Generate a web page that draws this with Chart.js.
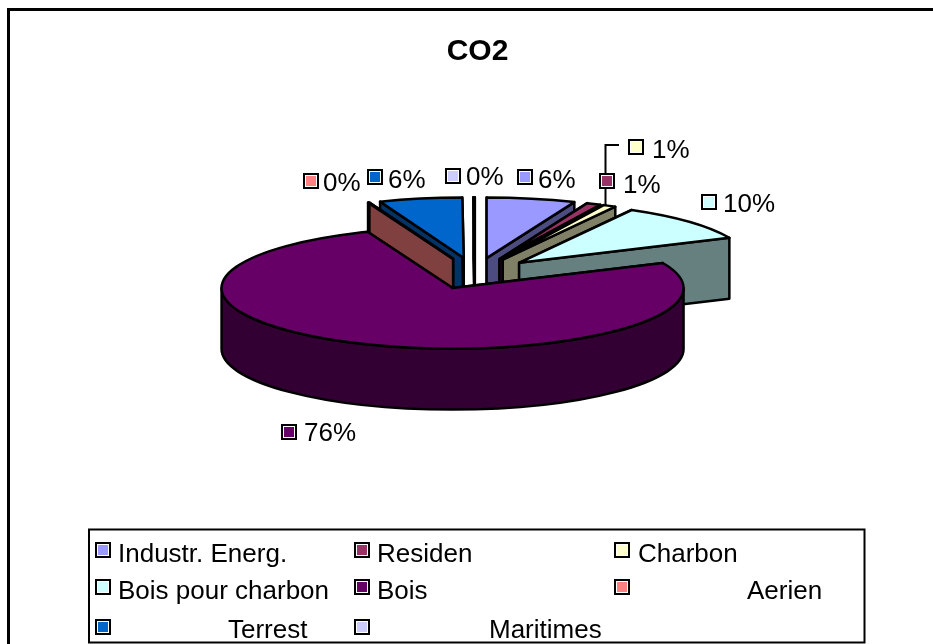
<!DOCTYPE html>
<html>
<head>
<meta charset="utf-8">
<style>html,body{margin:0;padding:0;background:#fff}canvas{display:block}</style>
<script src="https://cdn.jsdelivr.net/npm/chart.js@4/dist/chart.umd.min.js"></script>
</head>
<body>
<canvas id="c" width="933" height="644"></canvas>
<script>
const categories = ["Industr. Energ.","Residen","Charbon","Bois pour charbon","Bois","Aerien","Terrest","Maritimes"];
const values = [6.2,1.0,0.9,10.1,75.8,0.1,5.8,0.1];
const topColors = ["#9999FF","#993366","#FFFFCC","#CCFFFF","#660066","#FF8080","#0066CC","#CCCCFF"];
const wallColors = ["#4C4C80","#4D1933","#808066","#668080","#330033","#804040","#003366","#666680"];
const titleText = "CO2";

// layout / style only
const TILT = 0.262, DEPTH = 61, EXPLODE = 60, CX = 475, CY = 273.5;
const FONT = '26px "Liberation Sans", Arial, sans-serif';
const labelPos = [
  {mx:525,my:177,tx:538,ty:188},{mx:607,my:181,tx:623,ty:193},{mx:636,my:147,tx:652,ty:158},
  {mx:709,my:202,tx:723,ty:212},{mx:289,my:432,tx:304,ty:441},{mx:311,my:181,tx:323,ty:191},
  {mx:375,my:177,tx:388,ty:188},{mx:453,my:176,tx:466,ty:185}
];
const legendPos = [
  {mx:103,my:550,tx:118,ty:562},{mx:362,my:550,tx:377,ty:562},{mx:622,my:550,tx:638,ty:562},
  {mx:103,my:587,tx:118,ty:599},{mx:362,my:587,tx:377,ty:599},{mx:622,my:587,tx:747,ty:599},
  {mx:103,my:627,tx:228,ty:638},{mx:362,my:627,tx:489,ty:638}
];

function marker(ctx,x,y,color){
  ctx.fillStyle="#000";ctx.fillRect(x-8,y-8,16,16);
  ctx.fillStyle="#fff";ctx.fillRect(x-6,y-6,12,12);
  ctx.fillStyle=color;ctx.fillRect(x-5,y-5,10,10);
}

const pie3d = {
  id:"pie3d",
  beforeDraw(chart){
    const ctx=chart.ctx;
    ctx.save();ctx.fillStyle="#fff";ctx.fillRect(0,0,933,644);
    ctx.strokeStyle="#000";ctx.lineWidth=3;
    ctx.beginPath();ctx.moveTo(8.5,644);ctx.lineTo(8.5,9.5);ctx.lineTo(933,9.5);ctx.stroke();
    ctx.restore();
  },
  beforeDatasetsDraw(chart){
    const ctx=chart.ctx, arcs=chart.getDatasetMeta(0).data;
    ctx.save();ctx.strokeStyle="#000";ctx.lineWidth=2.5;ctx.lineJoin="round";
    const items=arcs.map((arc,i)=>{
      const mid=(arc.startAngle+arc.endAngle)/2;
      return {arc,i,mid,ox:CX+Math.cos(mid)*EXPLODE,oy:CY+Math.sin(mid)*EXPLODE*TILT};
    });
    items.sort((p,q)=>p.oy-q.oy);
    for(const it of items){
      const {arc,i,ox,oy}=it, r=arc.outerRadius, a0=arc.startAngle, a1=arc.endAngle;
      ctx.fillStyle=wallColors[i];
      for(const a of [a0,a1]){
        const rx=ox+Math.cos(a)*r, ry=oy+Math.sin(a)*r*TILT;
        ctx.beginPath();ctx.moveTo(ox,oy);ctx.lineTo(rx,ry);ctx.lineTo(rx,ry+DEPTH);ctx.lineTo(ox,oy+DEPTH);ctx.closePath();ctx.fill();ctx.stroke();
      }
      const s=Math.max(a0,0), e=Math.min(a1,Math.PI);
      if(e>s){
        ctx.beginPath();ctx.ellipse(ox,oy,r,r*TILT,0,s,e);ctx.ellipse(ox,oy+DEPTH,r,r*TILT,0,e,s,true);ctx.closePath();ctx.fill();ctx.stroke();
      }
      ctx.fillStyle=topColors[i];
      ctx.beginPath();ctx.moveTo(ox,oy);ctx.ellipse(ox,oy,r,r*TILT,0,a0,a1);ctx.closePath();ctx.fill();ctx.stroke();
    }
    ctx.restore();
    return false;
  },
  afterDraw(chart){
    const ctx=chart.ctx, total=values.reduce((a,b)=>a+b,0);
    ctx.save();
    // leader line for Charbon
    ctx.strokeStyle="#000";ctx.lineWidth=2;
    ctx.beginPath();ctx.moveTo(619,145);ctx.lineTo(605.5,145);ctx.lineTo(605.5,206);ctx.stroke();
    ctx.font=FONT;ctx.textBaseline="alphabetic";ctx.textAlign="left";
    values.forEach((v,i)=>{
      const p=labelPos[i];
      marker(ctx,p.mx,p.my,topColors[i]);
      ctx.fillStyle="#000";
      ctx.fillText(Math.round(v/total*100)+"%",p.tx,p.ty);
    });
    // legend box
    ctx.fillStyle="#fff";ctx.fillRect(89,529.5,775.5,113);
    ctx.strokeStyle="#000";ctx.lineWidth=2;ctx.strokeRect(89,529.5,775.5,113);
    categories.forEach((c,i)=>{
      const p=legendPos[i];
      marker(ctx,p.mx,p.my,topColors[i]);
      ctx.fillStyle="#000";
      ctx.fillText(c,p.tx,p.ty);
    });
    ctx.restore();
  }
};

new Chart(document.getElementById("c"),{
  type:"pie",
  data:{labels:categories,datasets:[{data:values,backgroundColor:topColors,borderColor:"#000",borderWidth:2}]},
  options:{
    responsive:false,animation:false,devicePixelRatio:1,
    radius:231,rotation:0,
    layout:{padding:{left:22,right:0,top:0,bottom:0}},
    plugins:{
      legend:{display:false},tooltip:{enabled:false},
      title:{display:true,text:titleText,color:"#000",font:{family:'"Liberation Sans", Arial, sans-serif',size:30,weight:"bold"},padding:{top:34,bottom:10}}
    }
  },
  plugins:[pie3d]
});
</script>
</body>
</html>
